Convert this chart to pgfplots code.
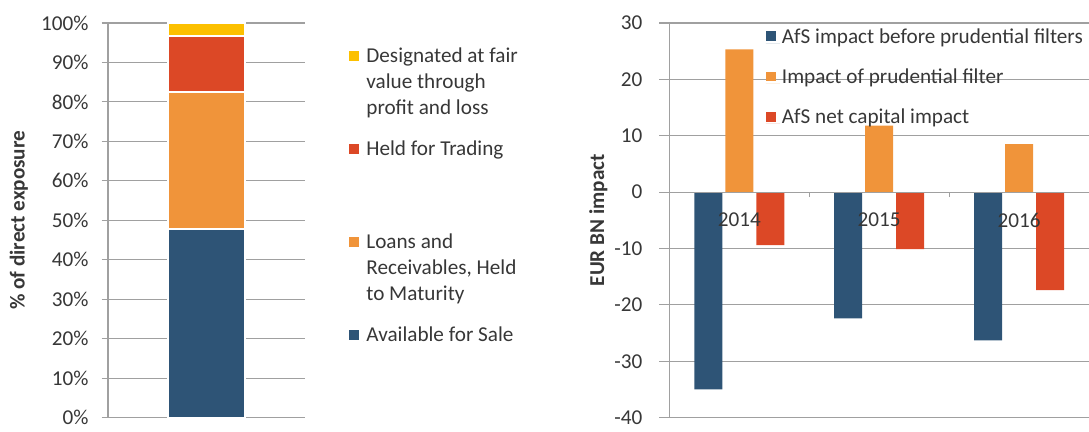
\documentclass[border=0pt]{standalone}
\usepackage{fontspec}
\setmainfont{Carlito}
\usepackage{pgfplots}
\pgfplotsset{compat=1.18}
\pgfplotsset{
  layers/labelsontop/.define layer set={
    axis background,axis grid,main,axis ticks,axis lines,axis tick labels,axis descriptions,axis foreground
  }{/pgfplots/layers/standard},
}
\definecolor{cblue}{RGB}{46,84,118}
\definecolor{corange}{RGB}{240,148,58}
\definecolor{cred}{RGB}{220,72,38}
\definecolor{cyellow}{RGB}{252,192,0}
\definecolor{cgrid}{RGB}{160,160,160}
\definecolor{ctext}{RGB}{55,55,55}
\begin{document}
\begin{tikzpicture}[font=\fontsize{10.6}{12.9}\selectfont]
\path (0,0) rectangle (545pt,216pt);
% ---------------- left chart ----------------
\begin{axis}[
  at={(54pt,7pt)}, anchor=south west, scale only axis,
  width=98.5pt, height=197.5pt,
  ybar stacked, bar width=38.5pt,
  xmin=-1, xmax=1, xtick=\empty,
  ymin=0, ymax=100, ytick={0,10,...,100},
  yticklabels={0\%,10\%,20\%,30\%,40\%,50\%,60\%,70\%,80\%,90\%,100\%},
  axis x line=none, axis y line*=left,
  ymajorgrids, grid style={cgrid, line width=0.6pt},
  axis line style={cgrid, line width=0.6pt, -},
  tick style={cgrid, line width=0.6pt}, tick align=outside, major tick length=3.2pt,
  yticklabel style={text=ctext, anchor=east, xshift=-3pt},
  ylabel={\bfseries\% of direct exposure},
  ylabel style={at={(axis description cs:-0.452,0.5)}, anchor=center, text=ctext},
  reverse legend,
  legend image code/.code={\fill[#1,draw=none] (0pt,0.75pt) rectangle (5pt,5.75pt);
    \path (0pt,0pt) -- (7pt,0pt);},
  legend style={at={(1.222,0.945)}, anchor=north west, draw=none, fill=none,
    inner sep=0pt, outer sep=0pt, row sep=1pt, column sep=0pt,
    nodes={anchor=base west, inner sep=1pt, text=ctext,
      text height=8pt, text depth=35.5pt}},
]
\addplot[fill=cblue, draw=white, line width=1pt] coordinates {(0,47.7)};
\addlegendentry{\parbox[t]{90pt}{Available for Sale}}
\addplot[fill=corange, draw=white, line width=1pt] coordinates {(0,34.9)};
\addlegendentry{\parbox[t]{90pt}{Loans and\\Receivables, Held\\to Maturity}}
\addplot[fill=cred, draw=white, line width=1pt] coordinates {(0,14.0)};
\addlegendentry{\parbox[t]{90pt}{Held for Trading}}
\addplot[fill=cyellow, draw=white, line width=1pt] coordinates {(0,3.4)};
\addlegendentry{\parbox[t]{90pt}{Designated at fair\\value through\\profit and loss}}
\end{axis}
% ---------------- right chart ----------------
\begin{axis}[
  set layers=labelsontop,
  at={(335pt,7pt)}, anchor=south west, scale only axis,
  width=210pt, height=197.5pt,
  ybar=1.5pt, bar width=14pt,
  xmin=-0.5, xmax=2.5, xtick={0,1,2}, xticklabels={2014,2015,2016},
  minor xtick={0.5,1.5},
  ymin=-40, ymax=30, ytick={-40,-30,...,30},
  yticklabels={-40,-30,-20,-10,0,10,20,30},
  axis x line=middle, axis y line*=left,
  hide obscured x ticks=false, hide obscured y ticks=false,
  ymajorgrids, grid style={cgrid, line width=0.6pt},
  axis line style={cgrid, line width=0.6pt, -},
  tick style={cgrid, line width=0.6pt}, tick align=outside,
  major tick length=5pt, minor tick length=2.5pt,
  major x tick style={draw=none},
  yticklabel style={text=ctext, anchor=east, xshift=-5pt},
  xticklabel style={text=ctext, yshift=-2pt},
  ylabel={\bfseries EUR BN impact},
  ylabel style={at={(axis description cs:-0.169,0.5)}, anchor=center, text=ctext},
  legend image code/.code={\fill[#1,draw=none] (0pt,1pt) rectangle (5pt,6pt);
    \path (0pt,0pt) -- (7pt,0pt);},
  legend style={at={(0.2302,0.994)}, anchor=north west, draw=none, fill=none,
    inner sep=0pt, outer sep=0pt, row sep=7.6pt, column sep=0pt,
    nodes={anchor=base west, inner sep=1pt, text=ctext,
      text height=8pt, text depth=2.5pt}},
]
\addplot[fill=cblue, draw=none] coordinates {(0,-35.0) (1,-22.4) (2,-26.3)};
\addlegendentry{AfS impact before prudential filters}
\addplot[fill=corange, draw=none] coordinates {(0,25.3) (1,11.8) (2,8.5)};
\addlegendentry{Impact of prudential filter}
\addplot[fill=cred, draw=none] coordinates {(0,-9.4) (1,-10.1) (2,-17.4)};
\addlegendentry{AfS net capital impact}
\end{axis}
\pgfresetboundingbox
\useasboundingbox (0,0) rectangle (545pt,216pt);
\end{tikzpicture}
\end{document}
